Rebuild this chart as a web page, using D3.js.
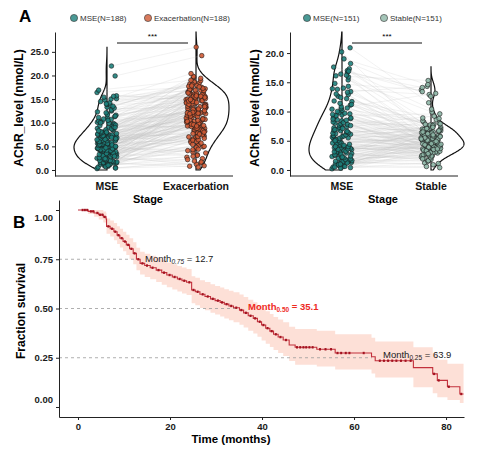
<!DOCTYPE html>
<html>
<head>
<meta charset="utf-8">
<script src="https://cdn.jsdelivr.net/npm/d3@7"></script>
<style>
body { margin: 0; background: #fff; }
svg { font-family: Arial, "Liberation Sans", sans-serif; }
.axis path, .axis line { stroke: #222; }
.axis text { font-weight: bold; fill: #1a1a1a; font-size: 9.5px; }
</style>
</head>
<body>
<svg id="fig" width="483" height="451"></svg>
<script>
// ---- panel A, left: MSE vs Exacerbation (paired, N=188)
var leftMSE = [0.3,0.5,0.6,0.8,0.9,1.0,1.1,1.2,1.3,1.4,1.5,1.5,1.6,1.7,1.8,1.9,0.4,0.7,1.2,1.6,1.9,1.0,
  2.0,2.1,2.2,2.3,2.4,2.5,2.6,2.7,2.8,2.9,3.0,3.1,3.2,3.3,3.4,3.5,3.6,3.7,3.8,3.9,2.2,2.5,2.8,3.1,3.4,3.7,2.0,2.6,3.0,3.3,3.6,3.9,2.4,2.9,3.5,
  4.0,4.1,4.2,4.3,4.4,4.5,4.6,4.7,4.8,4.9,5.0,5.1,5.2,5.3,5.4,5.5,5.6,5.7,5.8,5.9,4.1,4.3,4.6,4.8,5.0,5.2,5.5,5.7,5.9,4.2,4.4,4.7,4.9,5.1,5.4,5.6,5.8,4.5,5.3,5.0,
  6.0,6.1,6.2,6.3,6.4,6.5,6.6,6.7,6.8,6.9,7.0,7.1,7.2,7.3,7.4,7.5,7.6,7.7,7.8,7.9,6.2,6.5,6.8,7.1,7.4,7.7,6.0,6.4,6.9,7.3,7.8,6.6,
  8.0,8.2,8.4,8.6,8.8,9.0,9.2,9.4,9.6,9.8,8.1,8.5,8.9,9.3,9.7,8.3,8.7,9.1,9.5,9.9,8.0,9.0,
  10.1,10.4,10.7,11.0,11.3,11.6,11.9,10.2,10.8,11.4,10.5,11.1,11.7,10.0,
  12.1,12.5,12.9,13.3,13.7,12.3,12.7,13.1,13.5,13.9,
  14.2,14.5,14.8,15.1,15.4,15.7,14.0,15.0,15.6,
  16.4,16.9,19.9,22.0];
var leftExac = [0.8,1.5,3.2,6.5,9.8,2.4,12.1,4.6,1.2,7.9,14.3,5.5,0.6,8.4,10.9,3.8,1.9,6.1,13.2,9.1,16.4,4.9,
  2.7,5.2,8.8,11.4,1.7,13.6,7.2,9.5,4.3,15.8,6.6,10.3,3.1,12.7,8.1,17.2,5.8,9.9,14.6,7.5,11.8,2.2,6.9,10.6,16.9,4.1,8.5,13.9,0.9,12.2,7.7,15.1,9.3,5.0,11.1,
  6.3,9.6,12.8,4.8,15.3,8.2,10.7,7.0,13.4,11.5,3.6,9.0,16.1,6.8,12.4,8.9,14.9,10.2,5.4,17.6,7.4,11.9,9.2,13.0,6.0,15.6,10.0,8.6,12.6,4.4,11.2,14.1,7.8,16.7,9.7,13.7,6.4,18.4,10.8,2.9,
  8.3,11.6,14.4,7.1,10.4,13.1,9.4,16.3,12.3,8.7,15.2,10.9,7.6,13.8,11.3,17.9,9.8,12.9,15.5,6.7,10.1,14.7,8.0,11.7,16.6,13.3,9.0,18.9,12.0,5.7,10.5,14.0,
  10.6,13.5,9.6,15.9,12.5,17.4,11.0,14.2,8.8,16.0,12.8,19.2,10.3,15.0,13.2,11.6,17.1,9.3,14.8,12.2,16.5,19.6,
  12.6,15.4,11.4,17.0,13.6,14.5,18.2,16.2,12.1,15.7,19.8,13.9,17.5,11.9,
  14.3,16.8,13.4,17.7,15.1,19.4,14.6,16.1,18.6,15.9,
  16.3,17.3,15.4,18.1,16.9,14.9,17.8,20.4,15.6,
  17.6,19.0,24.2,26.0];

// ---- panel A, right: MSE vs Stable (paired, N=151)
var rightMSE = [0.2,0.4,0.5,0.6,0.7,0.8,0.9,1.0,1.1,1.2,1.3,1.4,1.5,1.6,1.7,1.8,1.9,0.3,0.6,0.9,1.2,1.5,1.8,1.0,0.5,
  2.0,2.2,2.3,2.5,2.6,2.8,2.9,3.0,3.1,3.3,3.4,3.5,3.7,3.8,3.9,2.1,2.4,2.7,3.0,3.2,3.6,3.9,2.2,2.6,3.1,3.5,3.8,
  4.0,4.1,4.3,4.4,4.6,4.7,4.9,5.0,5.2,5.3,5.5,5.6,5.8,5.9,4.2,4.5,4.8,5.1,5.4,5.7,4.0,4.6,5.2,5.8,5.0,
  6.0,6.2,6.3,6.5,6.7,6.8,7.0,7.2,7.3,7.5,7.7,7.9,6.1,6.4,6.9,7.1,7.4,7.8,6.6,7.6,
  8.0,8.2,8.4,8.6,8.8,9.0,9.2,9.4,9.6,9.8,8.1,8.5,8.9,9.3,9.7,8.7,9.5,
  10.2,10.5,10.8,11.1,11.4,11.7,10.0,10.6,11.2,11.8,10.4,
  12.2,12.6,13.0,13.4,13.8,12.4,12.9,13.3,13.9,
  14.0,14.3,14.8,15.4,15.9,
  16.1,16.4,16.7,17.0,17.3,17.6,16.2,16.9,
  18.2,19.0,20.2,20.9];
var rightStable = [1.2,3.5,2.4,4.8,0.6,2.9,5.6,1.8,3.9,6.4,2.2,4.4,0.9,3.2,5.1,1.5,2.7,4.1,7.3,3.6,1.1,5.9,2.5,4.6,0.4,
  3.3,5.2,2.0,4.3,6.8,3.0,4.9,1.6,5.7,3.7,2.6,7.8,4.0,6.1,2.8,4.5,3.4,5.4,1.9,6.6,4.2,3.1,5.0,2.3,7.0,3.8,4.7,
  4.4,2.1,6.0,3.5,5.3,7.5,4.1,2.9,6.3,4.8,3.2,5.8,8.2,4.0,3.6,6.7,2.4,5.1,4.6,7.1,3.0,5.5,3.9,6.9,4.3,
  5.0,3.7,7.2,4.5,6.2,2.6,5.6,8.6,4.2,6.5,3.4,7.7,4.9,5.9,3.1,6.8,4.7,9.2,5.3,4.0,
  4.6,6.1,3.3,7.4,5.2,2.8,6.6,4.3,8.0,5.7,3.8,7.0,4.8,9.6,5.4,6.3,3.5,
  5.8,7.9,4.1,6.4,3.6,8.8,5.1,6.9,4.4,7.6,13.1,
  6.0,4.9,7.3,14.3,5.5,8.4,3.9,6.7,12.9,
  7.1,5.3,13.7,9.9,4.5,
  15.3,6.2,14.1,8.9,5.7,13.4,7.8,10.4,
  12.6,14.6,6.5,11.5];

// ---- panel B: Kaplan-Meier estimate
var kmTime  = [0,2.2,3.5,4.5,5.5,6.1,6.2,7.0,7.8,8.5,9.1,9.8,10.5,11.2,12.0,12.7,13.5,14.5,15.7,17.0,18.2,19.3,20.5,21.6,22.6,23.6,24.7,25.5,26.5,27.6,28.8,29.8,30.9,31.8,32.8,33.8,35.1,36.0,37.0,38.1,39.0,39.9,40.8,41.7,42.5,43.5,44.6,45.9,47.2,51.9,55.9,63.8,64.6,72.9,77.1,78.1,80.3,83.0,83.8];
var kmSurv  = [1,.993,.985,.976,.965,.954,.917,.905,.89,.872,.857,.84,.823,.803,.78,.75,.729,.718,.707,.695,.682,.67,.66,.65,.641,.633,.594,.585,.572,.561,.549,.54,.531,.522,.513,.504,.492,.478,.463,.45,.433,.416,.4,.385,.369,.355,.34,.315,.303,.293,.274,.255,.235,.2,.168,.135,.103,.066,.066];
var kmLower = [1,.98,.966,.952,.937,.923,.879,.865,.847,.827,.81,.79,.772,.75,.725,.694,.672,.66,.648,.635,.621,.608,.597,.586,.576,.568,.527,.517,.503,.491,.479,.469,.459,.449,.44,.43,.417,.403,.387,.373,.356,.338,.321,.305,.289,.274,.259,.233,.215,.205,.19,.17,.15,.1,.07,.05,.035,.02,.02];
var kmUpper = [1,1,1,1,.993,.986,.957,.947,.934,.918,.905,.89,.875,.857,.836,.808,.788,.778,.768,.757,.745,.734,.725,.716,.708,.7,.664,.656,.644,.634,.623,.614,.606,.598,.59,.582,.571,.558,.544,.532,.516,.5,.486,.472,.457,.444,.43,.407,.396,.387,.369,.352,.333,.303,.272,.24,.22,.22,.22];
var censorTimes = [1.0,1.5,2.0,2.8,3.3,4.2,4.8,5.3,5.8,6.6,7.4,8.1,8.8,9.5,10.2,10.9,11.6,12.3,13.1,14.0,15.0,16.2,17.5,18.7,19.9,21.0,22.1,23.1,24.2,25.1,26.0,27.1,28.2,29.3,30.4,31.3,32.3,33.3,34.4,35.5,36.5,37.5,38.5,39.5,40.3,41.2,42.1,43.0,44.0,45.2,
  47.6,48.3,49.0,49.6,50.3,51.0,52.6,53.8,55.0,56.4,57.2,58.2,59.0,62.1,65.6,66.5,67.4,68.3,69.2,70.2,71.2,72.3,77.4,78.4,80.6,83.3];
var medianProb = [0.75, 0.50, 0.25];
var medianTime = [12.7, 35.1, 63.9];
var medianSub = ["0.75", "0.50", "0.25"];

var svg = d3.select("#fig");

function nrd0(v) {
  var s = v.slice().sort(d3.ascending);
  var iqr = (d3.quantile(s, 0.75) - d3.quantile(s, 0.25)) / 1.34;
  return 0.9 * Math.min(d3.deviation(s), iqr) * Math.pow(s.length, -0.2);
}
function density(v, at, bw) {
  return d3.mean(v, function(d) { var u = (at - d) / bw; return Math.exp(-0.5 * u * u); });
}
// sideways spread of the points (hash of the index, fixed between runs)
function jit(i, salt) {
  var h = Math.sin(i * 12.9898 + salt * 78.233) * 43758.5453;
  return ((h - Math.floor(h)) * 2 - 1) * 10;
}

function pairPanel(cfg) {
  var g = svg.append("g");
  var y = d3.scaleLinear().domain(cfg.yDomain).range([176, 32]);
  var x = d3.scalePoint().domain(cfg.cats).range(cfg.centers);

  // half violins
  [[cfg.a, -1, 0], [cfg.b, 1, 1]].forEach(function(s) {
    var vals = s[0], side = s[1], cx = x(cfg.cats[s[2]]);
    var bw = nrd0(vals);
    var hi = Math.min(d3.max(vals) + 3 * bw, cfg.yDomain[1]);
    var grid = d3.range(0, hi, 0.05).concat([hi]);
    var dens = grid.map(function(v) { return [v, density(vals, v, bw)]; });
    var w = d3.scaleLinear().domain([0, d3.max(dens, function(d) { return d[1]; })]).range([0, 33]);
    g.append("path").datum(dens)
      .attr("d", d3.area().y(function(d) { return y(d[0]); })
        .x0(cx).x1(function(d) { return cx + side * w(d[1]); }))
      .attr("fill", "none").attr("stroke", "#111").attr("stroke-width", 1.2);
  });

  // paired lines
  var cx0 = x(cfg.cats[0]), cx1 = x(cfg.cats[1]);
  g.selectAll(".pair").data(cfg.a).enter().append("line")
    .attr("x1", function(d, i) { return cx0 + jit(i, 0); })
    .attr("y1", function(d) { return y(d); })
    .attr("x2", function(d, i) { return cx1 + jit(i, 1); })
    .attr("y2", function(d, i) { return y(cfg.b[i]); })
    .attr("stroke", "#c4c4c4").attr("stroke-width", 0.4).attr("stroke-opacity", 0.55);

  // points
  [[cfg.a, 0, cfg.colA], [cfg.b, 1, cfg.colB]].forEach(function(s) {
    var cx = x(cfg.cats[s[1]]);
    g.selectAll(null).data(s[0]).enter().append("circle")
      .attr("cx", function(d, i) { return cx + jit(i, s[1]); })
      .attr("cy", function(d) { return y(d); })
      .attr("r", 2.3)
      .attr("fill", s[2]).attr("fill-opacity", 0.9)
      .attr("stroke", "#1a1a1a").attr("stroke-width", 0.6);
  });

  // axes
  g.append("g").attr("class", "axis")
    .attr("transform", "translate(" + cfg.left + ",0)")
    .call(d3.axisLeft(y).tickValues(cfg.yTicks).tickFormat(d3.format(".1f")).tickSize(3).tickSizeOuter(0));
  g.append("line").attr("x1", cfg.left).attr("x2", cfg.right).attr("y1", 176).attr("y2", 176)
    .attr("stroke", "#222");
  g.selectAll(".xl").data(cfg.cats).enter().append("text")
    .attr("x", function(d) { return x(d); }).attr("y", 190)
    .attr("text-anchor", "middle").attr("font-weight", "bold").attr("font-size", "10.5px")
    .attr("fill", "#111").text(function(d) { return d; });
  g.append("text").attr("x", cfg.stageX).attr("y", 203)
    .attr("text-anchor", "middle").attr("font-weight", "bold").attr("font-size", "11px")
    .text("Stage");
  g.append("text")
    .attr("transform", "translate(" + cfg.ylabX + ",108) rotate(-90)")
    .attr("text-anchor", "middle").attr("font-weight", "bold").attr("font-size", "12px")
    .text("AChR_level (nmol/L)");

  // significance bar
  g.append("line").attr("x1", cfg.sig[0]).attr("x2", cfg.sig[1]).attr("y1", 43).attr("y2", 43)
    .attr("stroke", "#111").attr("stroke-width", 1);
  g.append("text").attr("x", (cfg.sig[0] + cfg.sig[1]) / 2).attr("y", 39)
    .attr("text-anchor", "middle").attr("font-size", "8px").text("***");

  // legend
  cfg.legend.forEach(function(l, k) {
    g.append("circle").attr("cx", l.x).attr("cy", 18).attr("r", 3.6)
      .attr("fill", k ? cfg.colB : cfg.colA).attr("fill-opacity", 0.8)
      .attr("stroke", "#333").attr("stroke-width", 0.6);
    g.append("text").attr("x", l.x + 6).attr("y", 21).attr("font-size", "8px").attr("fill", "#333")
      .text(l.t);
  });
}

pairPanel({
  a: leftMSE, b: leftExac, cats: ["MSE", "Exacerbation"], centers: [107, 196],
  yDomain: [-1.27, 29.2], yTicks: [0, 5, 10, 15, 20, 25], left: 55, right: 233,
  colA: "#1d7f7b", colB: "#cf5a34", stageX: 148, ylabX: 23, sig: [117, 188],
  legend: [{x: 74, t: "MSE(N=188)"}, {x: 148, t: "Exacerbation(N=188)"}]
});
pairPanel({
  a: rightMSE, b: rightStable, cats: ["MSE", "Stable"], centers: [342, 431],
  yDomain: [-1.03, 23.6], yTicks: [0, 5, 10, 15, 20], left: 290, right: 458,
  colA: "#1d7f7b", colB: "#8db6a6", stageX: 383, ylabX: 259, sig: [352, 422],
  legend: [{x: 307, t: "MSE(N=151)"}, {x: 384, t: "Stable(N=151)"}]
});

svg.append("text").attr("x", 19).attr("y", 22).attr("font-weight", "bold").attr("font-size", "17px").text("A");
svg.append("text").attr("x", 13).attr("y", 228).attr("font-weight", "bold").attr("font-size", "17px").text("B");

// ---- Kaplan-Meier panel
var kx = d3.scaleLinear().domain([-4.13, 83.9]).range([59, 464]);
var ky = d3.scaleLinear().domain([-0.0508, 1.0508]).range([417, 200]);
var km = kmTime.map(function(t, i) { return {t: t, s: kmSurv[i], lo: kmLower[i], up: kmUpper[i]}; });
var b = svg.append("g");

b.append("path").datum(km)
  .attr("d", d3.area().curve(d3.curveStepAfter)
    .x(function(d) { return kx(d.t); }).y0(function(d) { return ky(d.lo); }).y1(function(d) { return ky(d.up); }))
  .attr("fill", "#fde0d7");

b.selectAll(".med").data(medianProb).enter().append("line")
  .attr("x1", 59).attr("x2", function(d, i) { return kx(medianTime[i]); })
  .attr("y1", function(d) { return ky(d); }).attr("y2", function(d) { return ky(d); })
  .attr("stroke", "#9a9a9a").attr("stroke-width", 0.8).attr("stroke-dasharray", "3,3");

b.append("path").datum(km)
  .attr("d", d3.line().curve(d3.curveStepAfter)
    .x(function(d) { return kx(d.t); }).y(function(d) { return ky(d.s); }))
  .attr("fill", "none").attr("stroke", "#c2303c").attr("stroke-width", 1.1);

var bis = d3.bisector(function(d) { return d; }).right;
b.selectAll(".cens").data(censorTimes).enter().append("rect")
  .attr("x", function(d) { return kx(d) - 1; })
  .attr("y", function(d) { return ky(kmSurv[bis(kmTime, d) - 1]) - 1.2; })
  .attr("width", 2).attr("height", 2.4).attr("fill", "#a3121f");

b.append("g").attr("class", "axis").attr("transform", "translate(59,0)")
  .call(d3.axisLeft(ky).tickValues([0, 0.25, 0.5, 0.75, 1]).tickFormat(d3.format(".2f")).tickSize(3).tickSizeOuter(0))
  .selectAll(".tick text").attr("dy", function(d) { return d === 1 ? "1.15em" : d === 0 ? "-0.5em" : "0.32em"; });
b.append("g").attr("class", "axis").attr("transform", "translate(0,417)")
  .call(d3.axisBottom(kx).tickValues([0, 20, 40, 60, 80]).tickSize(3).tickSizeOuter(0));

b.append("text").attr("transform", "translate(25,311) rotate(-90)")
  .attr("text-anchor", "middle").attr("font-weight", "bold").attr("font-size", "12px").text("Fraction survival");
b.append("text").attr("x", 231).attr("y", 443)
  .attr("text-anchor", "middle").attr("font-weight", "bold").attr("font-size", "11.5px").text("Time (months)");

var labPos = [[145, 262], [248, 310], [383, 358]];
medianProb.forEach(function(p, i) {
  var red = i === 1;
  var t = b.append("text").attr("x", labPos[i][0]).attr("y", labPos[i][1])
    .attr("font-size", "9.5px").attr("fill", red ? "#ee2a1f" : "#1a1a1a")
    .attr("font-weight", red ? "bold" : "normal");
  t.append("tspan").text("Month");
  t.append("tspan").attr("font-size", "6.5px").attr("font-style", i === 0 ? "italic" : "normal")
    .attr("dy", 1.5).text(medianSub[i]);
  t.append("tspan").attr("dy", -1.5).text(" = " + medianTime[i].toFixed(1));
});
</script>
</body>
</html>
